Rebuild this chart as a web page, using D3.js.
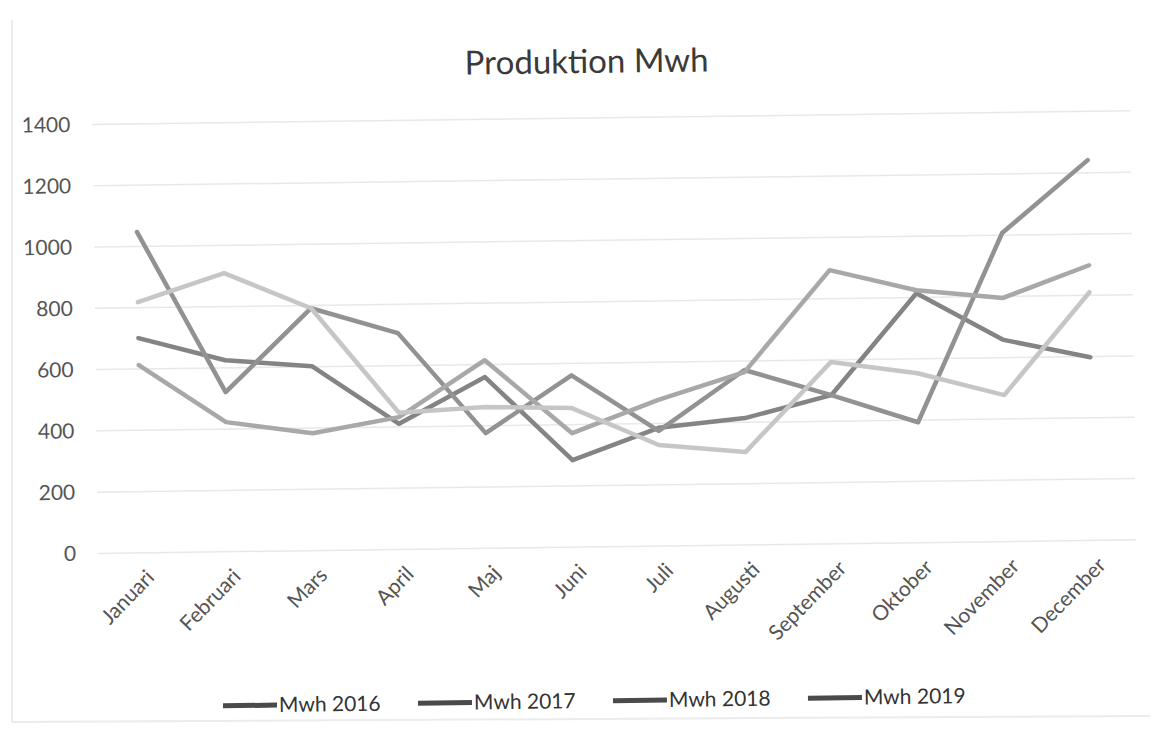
<!DOCTYPE html>
<html>
<head>
<meta charset="utf-8">
<script src="https://cdn.jsdelivr.net/npm/d3@7"></script>
<style>
  body { margin: 0; background: #fff; }
  svg { display: block; font-family: Lato, "Open Sans", sans-serif; }
</style>
</head>
<body>
<svg id="chart" width="1158" height="738"></svg>
<script>
// months on the x axis
var months = ["Januari", "Februari", "Mars", "April", "Maj", "Juni", "Juli",
              "Augusti", "September", "Oktober", "November", "December"];

// production per month (Mwh)
var mwh2016 = [701, 625, 602, 410, 559, 284, 386, 414, 485, 814, 658, 598];
var mwh2017 = [1047, 521, 791, 706, 376, 561, 376, 571, 485, 393, 1007, 1241];
var mwh2018 = [613, 423, 383, 432, 614, 372, 477, 564, 893, 824, 795, 898];
var mwh2019 = [818, 909, 791, 446, 461, 454, 330, 303, 593, 553, 478, 810];

var seriesNames = ["Mwh 2016", "Mwh 2017", "Mwh 2018", "Mwh 2019"];
var yTicks = [0, 200, 400, 600, 800, 1000, 1200, 1400];

var series = [mwh2016, mwh2017, mwh2018, mwh2019];
var greys = ["#848484", "#929292", "#a8a8a8", "#c6c6c6"];

var svg = d3.select("#chart");

// the scan is slightly tilted, rotate everything a bit round the axis origin
var root = svg.append("g")
    .attr("transform", "rotate(-0.75, 130, 553)");

var x = d3.scaleBand()
    .domain(months)
    .range([98, 1136]);

var y = d3.scaleLinear()
    .domain([0, 1400])
    .range([553, 124]);

function xc(m) { return x(m) + x.bandwidth() / 2; }

// gridlines
root.append("g")
    .selectAll("line")
    .data(yTicks)
    .enter()
    .append("line")
    .attr("x1", 98)
    .attr("x2", 1136)
    .attr("y1", function (d) { return y(d); })
    .attr("y2", function (d) { return y(d); })
    .attr("stroke", "#e8e8e8")
    .attr("stroke-width", 1.5);

// y axis labels
var yAxis = d3.axisLeft(y).tickValues(yTicks).tickFormat(d3.format("d")).tickSize(0).tickPadding(0);
var yg = root.append("g")
    .attr("transform", "translate(76,0)")
    .call(yAxis);
yg.select(".domain").remove();
yg.selectAll("text")
    .attr("font-size", 21)
    .attr("font-family", "Lato, sans-serif")
    .attr("fill", "#555");

// x axis labels, rotated
var xAxis = d3.axisBottom(x).tickSize(0).tickPadding(0);
var xg = root.append("g")
    .attr("transform", "translate(0,553)")
    .call(xAxis);
xg.select(".domain").remove();
xg.selectAll("text")
    .attr("font-size", 21)
    .attr("font-family", "Lato, sans-serif")
    .attr("fill", "#555")
    .attr("text-anchor", "end")
    .attr("dy", null)
    .attr("transform", "translate(14,26) rotate(-45)");

// the lines
var line = d3.line()
    .x(function (d, i) { return xc(months[i]); })
    .y(function (d) { return y(d); });

root.append("g")
    .selectAll("path")
    .data(series)
    .enter()
    .append("path")
    .attr("d", line)
    .attr("fill", "none")
    .attr("stroke", function (d, i) { return greys[i]; })
    .attr("stroke-width", 4.5)
    .attr("stroke-linejoin", "round")
    .attr("stroke-linecap", "round");

// title
root.append("text")
    .attr("x", 593)
    .attr("y", 79)
    .attr("text-anchor", "middle")
    .attr("font-size", 33)
    .attr("fill", "#3a3a3a")
    .text("Produktion Mwh");

// legend
var legend = root.append("g")
    .selectAll("g")
    .data(seriesNames)
    .enter()
    .append("g")
    .attr("transform", function (d, i) { return "translate(" + (221 + i * 195) + ",707)"; });

legend.append("line")
    .attr("x1", 0)
    .attr("x2", 54)
    .attr("stroke", "#4a4a4a")
    .attr("stroke-width", 5);

legend.append("text")
    .attr("x", 56)
    .attr("y", 7)
    .attr("font-size", 21)
    .attr("fill", "#333")
    .text(function (d) { return d; });

// faint frame of the chart area
svg.append("line")
    .attr("x1", 12).attr("x2", 12)
    .attr("y1", 20).attr("y2", 722)
    .attr("stroke", "#ececec").attr("stroke-width", 2);
svg.append("line")
    .attr("x1", 12).attr("x2", 1150)
    .attr("y1", 722).attr("y2", 716)
    .attr("stroke", "#ececec").attr("stroke-width", 2);
</script>
</body>
</html>
